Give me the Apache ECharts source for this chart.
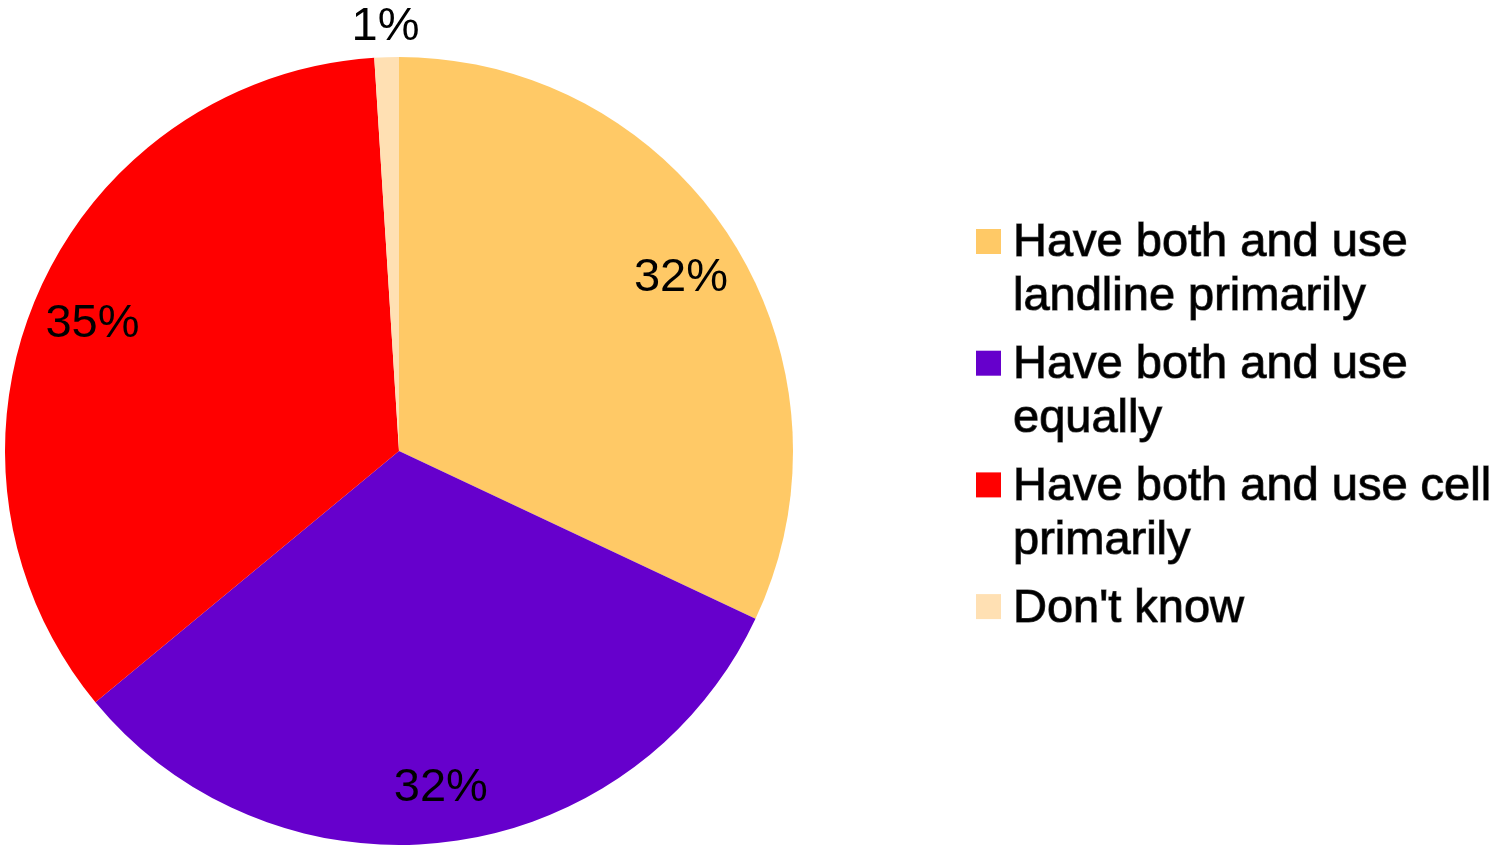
<!DOCTYPE html>
<html>
<head>
<meta charset="utf-8">
<style>
  html, body { margin: 0; padding: 0; background: #fff; }
  #chart { width: 1496px; height: 847px; }
</style>
<script src="https://cdn.jsdelivr.net/npm/echarts@6/dist/echarts.min.js"></script>
</head>
<body>
<div id="chart"></div>
<script>
// Phone usage among people who have both a landline and a cell phone
const categories = [
  'Have both and use landline primarily',
  'Have both and use equally',
  'Have both and use cell primarily',
  "Don't know"
];
const legendLabels = [
  'Have both and use\nlandline primarily',
  'Have both and use\nequally',
  'Have both and use cell\nprimarily',
  "Don't know"
];
const shares = [32, 32, 35, 1];
const colors = ['#FFC966', '#6600CC', '#FF0000', '#FFE0B3'];

const FONT = 'Liberation Sans, Arial, Helvetica, sans-serif';
const CENTER = [399, 451];
const R = 394;

const pieData = categories.map((name, i) => ({
  name: name,
  value: shares[i],
  itemStyle: { color: colors[i] }
}));

// Transparent overlay pies used only to place the percentage labels
function labelSeries(outerRadius, showFor) {
  return {
    type: 'pie',
    silent: true,
    center: CENTER,
    radius: [0, outerRadius],
    startAngle: 90,
    clockwise: true,
    avoidLabelOverlap: false,
    z: 3,
    itemStyle: { color: 'rgba(0,0,0,0)', borderWidth: 0 },
    labelLine: { show: false },
    data: categories.map((name, i) => ({
      name: name,
      value: shares[i],
      label: {
        show: showFor(i),
        position: 'inside',
        // a thin empty first line nudges the value text slightly downward
        formatter: '{gap|}\n{v|' + shares[i] + '%}',
        rich: {
          gap: { fontSize: 1, lineHeight: 11 },
          v: {
            color: '#000',
            fontFamily: FONT,
            fontSize: 47,
            lineHeight: 50
          }
        }
      }
    }))
  };
}

// Legend drawn as swatch + text blocks, first text line aligned with swatch
const legendX = 976, legendY = 229, legendStep = 121.7, swatch = 25, lineH = 54;
const legendGraphics = [];
legendLabels.forEach((txt, i) => {
  const top = legendY + i * legendStep;
  legendGraphics.push({
    type: 'rect',
    shape: { x: legendX, y: top, width: swatch, height: swatch },
    style: { fill: colors[i] }
  });
  legendGraphics.push({
    type: 'text',
    x: 1013,
    y: top + swatch / 2 - lineH / 2 + 2,
    style: {
      text: txt,
      fill: '#000',
      stroke: 'rgba(40,40,40,0.85)',
      lineWidth: 1.2,
      fontFamily: FONT,
      fontSize: 47,
      lineHeight: lineH,
      verticalAlign: 'top',
      align: 'left',
      shadowColor: 'rgba(0,0,0,0.5)',
      shadowOffsetX: 1.5,
      shadowOffsetY: 1.5,
      shadowBlur: 0.5
    }
  });
});

const chart = echarts.init(document.getElementById('chart'), null, { renderer: 'canvas' });
chart.setOption({
  backgroundColor: '#ffffff',
  animation: false,
  series: [
    {
      type: 'pie',
      center: CENTER,
      radius: [0, R],
      startAngle: 90,
      clockwise: true,
      avoidLabelOverlap: false,
      label: { show: false },
      labelLine: { show: false },
      itemStyle: { borderWidth: 0 },
      data: pieData
    },
    labelSeries(R * 1.68, i => i < 3),
    labelSeries(427 * 2, i => i === 3)
  ],
  graphic: legendGraphics
});
</script>
</body>
</html>
